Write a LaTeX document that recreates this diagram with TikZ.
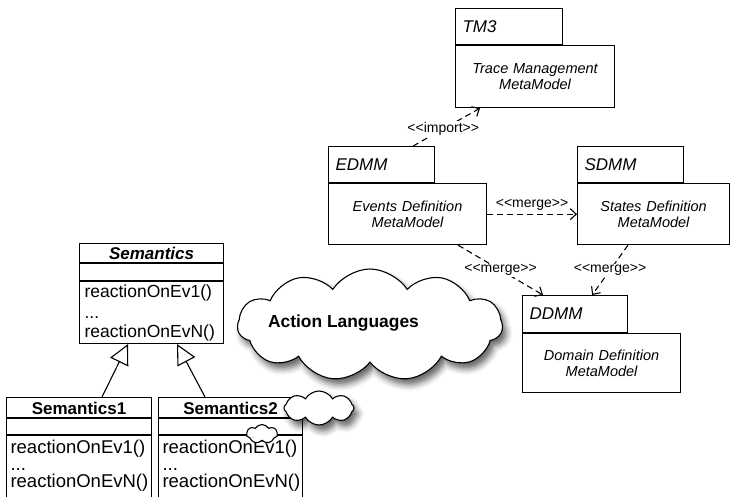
\documentclass[tikz,border=0pt]{standalone}
\usepackage{fontspec}
\setmainfont{Liberation Sans}
\usetikzlibrary{arrows.meta,shapes.symbols,shadows.blur,calc}
\newcommand{\stlt}{<\kern0pt<}
\newcommand{\stgt}{>\kern0pt>}
\begin{document}
\begin{tikzpicture}[x=1pt,y=-1pt,line width=1.1pt,
  pkgtab/.style={draw, anchor=north west, inner xsep=7pt, inner ysep=0pt, minimum height=36pt, align=left, font=\fontsize{17}{20}\selectfont\itshape},
  pkgbody/.style={draw, anchor=north west, inner xsep=3pt, inner ysep=0pt, align=center, font=\fontsize{14.5}{16.5}\selectfont\itshape},
  dep/.style={dash pattern=on 6pt off 4pt, -{Straight Barb[length=6pt,width=11pt]}},
  stereo/.style={font=\fontsize{14}{16}\selectfont, inner sep=1pt, fill=white},
  umlbox/.style={draw, anchor=north west, inner sep=0pt},
  hdr/.style={inner sep=0pt, font=\fontsize{17}{20}\selectfont\bfseries},
  meth/.style={anchor=base west, inner sep=0pt, font=\fontsize{17.5}{20}\selectfont},
  methb/.style={anchor=base west, inner sep=0pt, font=\fontsize{18.5}{20}\selectfont},
  gen/.style={-{Triangle[open, length=20pt, width=20pt]}},
  cloudshape/.style={cloud, draw, fill=white, cloud ignores aspect, inner sep=0pt},
  cshadow/.style={blur shadow={shadow xshift=4pt, shadow yshift=-6pt, shadow blur radius=6pt, shadow opacity=60}}
]
\useasboundingbox (0,0) rectangle (731,496);
\clip (0,0) rectangle (731,496);

% packages
\node[pkgtab, text width=93pt] (tm3tab) at (455,8) {TM3};
\node[pkgbody, text width=153pt, minimum height=62pt] (tm3body) at (tm3tab.south west) {Trace Management\\MetaModel};

\node[pkgtab, text width=92pt] (edmmtab) at (328,146) {EDMM};
\node[pkgbody, text width=152pt, minimum height=61pt] (edmmbody) at (edmmtab.south west) {Events Definition\\MetaModel};

\node[pkgtab, text width=92pt] (sdmmtab) at (577,146) {SDMM};
\node[pkgbody, text width=146pt, minimum height=61pt] (sdmmbody) at (sdmmtab.south west) {States Definition\\MetaModel};

\node[pkgtab, text width=91pt, minimum height=37pt] (ddmmtab) at (522,295) {DDMM};
\node[pkgbody, text width=152pt, minimum height=59pt] (ddmmbody) at (ddmmtab.south west) {Domain Definition\\MetaModel};

% dependencies
\draw[dep] ([xshift=-22pt]edmmtab.north east) -- node[stereo, pos=0.45] (lblimport) {\stlt import\stgt} ([xshift=25pt]tm3body.south west);
\draw[dep] (edmmbody.east) -- node[stereo, above=2pt, fill=none] (lblmerge1) {\stlt merge\stgt} (sdmmbody.west);
\draw[dep] ([xshift=-29pt]edmmbody.south east) -- node[stereo, pos=0.5] (lblmerge2) {\stlt merge\stgt} ([xshift=21pt]ddmmtab.north west);
\draw[dep] ([xshift=51pt]sdmmbody.south west) -- node[stereo, pos=0.5] (lblmerge3) {\stlt merge\stgt} ([xshift=-36pt]ddmmtab.north east);

% Semantics class
\node[umlbox, minimum width=144pt, minimum height=100pt] (sem) at (79,243) {};
\draw ([yshift=-20pt]sem.north west) -- ([yshift=-20pt]sem.north east);
\draw ([yshift=-38pt]sem.north west) -- ([yshift=-38pt]sem.north east);
\node[hdr, font=\fontsize{17}{20}\selectfont\bfseries\itshape] (semtitle) at ([yshift=-10pt]sem.north) {Semantics};
\node[meth] (semm1) at ([xshift=5pt,yshift=-54pt]sem.north west) {reactionOnEv1()};
\node[meth] (semm2) at ([xshift=5pt,yshift=-75pt]sem.north west) {...};
\node[meth] (semm3) at ([xshift=5pt,yshift=-94.5pt]sem.north west) {reactionOnEvN()};

% Semantics1
\node[umlbox, minimum width=145pt, minimum height=110pt] (sem1) at (6,397) {};
\draw ([yshift=-21pt]sem1.north west) -- ([yshift=-21pt]sem1.north east);
\draw ([yshift=-38pt]sem1.north west) -- ([yshift=-38pt]sem1.north east);
\node[hdr] (sem1title) at ([yshift=-11pt]sem1.north) {Semantics1};
\node[methb] (sem1m1) at ([xshift=4pt,yshift=-56pt]sem1.north west) {reactionOnEv1()};
\node[methb] (sem1m2) at ([xshift=4pt,yshift=-73pt]sem1.north west) {...};
\node[methb] (sem1m3) at ([xshift=4pt,yshift=-90.5pt]sem1.north west) {reactionOnEvN()};

% Semantics2
\node[umlbox, minimum width=144pt, minimum height=110pt] (sem2) at (158,397) {};
\draw ([yshift=-21pt]sem2.north west) -- ([yshift=-21pt]sem2.north east);
\draw ([yshift=-38pt]sem2.north west) -- ([yshift=-38pt]sem2.north east);
\node[hdr] (sem2title) at ([yshift=-11pt]sem2.north) {Semantics2};
\node[methb] (sem2m1) at ([xshift=4pt,yshift=-56pt]sem2.north west) {reactionOnEv1()};
\node[methb] (sem2m2) at ([xshift=4pt,yshift=-73pt]sem2.north west) {...};
\node[methb] (sem2m3) at ([xshift=4pt,yshift=-90.5pt]sem2.north west) {reactionOnEvN()};

% generalizations
\draw[gen] ([xshift=96pt]sem1.north west) -- ([xshift=49pt]sem.south west);
\draw[gen] ([xshift=47pt]sem2.north west) -- ([xshift=98pt]sem.south west);

% clouds
\node[cloudshape, cshadow, cloud puffs=11, cloud puff arc=115, minimum width=265pt, minimum height=112pt] (bigcloud) at (370,325) {};
\node[inner sep=0pt, font=\fontsize{17.4}{20}\selectfont\bfseries] (altext) at (343.5,323) {Action Languages};
\node[cloudshape, cshadow, cloud puffs=8, cloud puff arc=120, minimum width=70pt, minimum height=34pt] (cloudA) at (319,408) {};
\node[cloudshape, cloud puffs=7, cloud puff arc=120, minimum width=31pt, minimum height=19pt] (cloudB) at (262,434) {};
\end{tikzpicture}
\end{document}
